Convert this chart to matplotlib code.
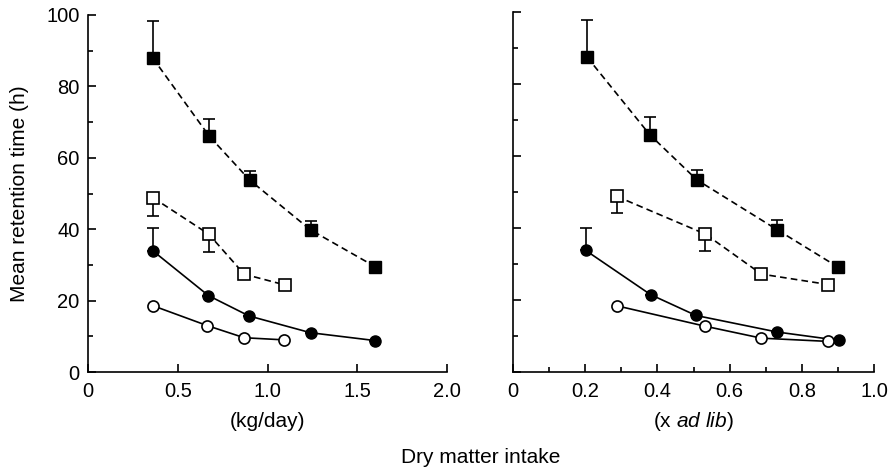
# mean retention time vs dry matter intake, two panels
import matplotlib
matplotlib.use('Agg')
import matplotlib.pyplot as plt
from matplotlib.ticker import FixedLocator, FixedFormatter

plt.rcParams['font.family'] = ['Liberation Sans', 'DejaVu Sans']
plt.rcParams['mathtext.fontset'] = 'custom'
plt.rcParams['mathtext.rm'] = 'Liberation Sans'
plt.rcParams['mathtext.it'] = 'Liberation Sans:italic'

# левая панель: кг/день
kg_fsq_x = [0.36, 0.675, 0.90, 1.24, 1.60]
kg_fsq_y = [88.0, 66.1, 53.8, 39.8, 29.5]
kg_fsq_err = [10.3, 4.9, 2.5, 2.6, 0]

kg_osq_x = [0.363, 0.673, 0.87, 1.096]
kg_osq_y = [48.8, 38.6, 27.4, 24.4]
kg_osq_err = [5.0, 4.9, 0, 0]

kg_fci_x = [0.36, 0.671, 0.897, 1.24, 1.60]
kg_fci_y = [34.0, 21.4, 15.7, 11.0, 8.8]
kg_fci_err = [6.2, 0, 0, 0, 0]

kg_oci_x = [0.36, 0.664, 0.87, 1.092]
kg_oci_y = [18.6, 13.0, 9.6, 9.0]

# правая панель: доля от ad lib
al_fsq_x = [0.205, 0.379, 0.509, 0.732, 0.901]
al_fsq_y = [87.5, 65.9, 53.4, 39.5, 29.1]
al_fsq_err = [10.4, 4.8, 2.7, 2.6, 0]

al_osq_x = [0.287, 0.533, 0.688, 0.873]
al_osq_y = [48.8, 38.3, 27.2, 24.3]
al_osq_err = [4.6, 4.8, 0, 0]

al_fci_x = [0.201, 0.381, 0.507, 0.732, 0.902]
al_fci_y = [33.8, 21.5, 15.7, 11.1, 8.8]
al_fci_err = [6.2, 0, 0, 0, 0]

al_oci_x = [0.287, 0.533, 0.688, 0.873]
al_oci_y = [18.4, 12.7, 9.4, 8.5]

y_ticks = [0, 20, 40, 60, 80, 100]
y_labels = ['0', '20', '40', '60', '80', '100']
y_minor = [10, 30, 50, 70, 90]
kg_ticks = [0, 0.5, 1.0, 1.5, 2.0]
kg_labels = ['0', '0.5', '1.0', '1.5', '2.0']
al_ticks = [0, 0.2, 0.4, 0.6, 0.8, 1.0]
al_labels = ['0', '0.2', '0.4', '0.6', '0.8', '1.0']
al_minor = [0.1, 0.3, 0.5, 0.7, 0.9]

LW = 1.2
FS = 15


def errs(err, up):
    zeros = [0] * len(err)
    return [zeros, err] if up else [err, zeros]


def panel(ax, fsq, osq, fci, oci):
    x, y, e = fsq
    ax.errorbar(x, y, yerr=errs(e, True), fmt='none', ecolor='black',
                elinewidth=LW, capsize=4.2, capthick=LW, zorder=2)
    ax.plot(x, y, ls=(0, (4, 2.5)), color='black', lw=LW, marker='s',
            ms=8.5, mfc='black', mec='black', zorder=3)
    x, y, e = osq
    ax.errorbar(x, y, yerr=errs(e, False), fmt='none', ecolor='black',
                elinewidth=LW, capsize=4.2, capthick=LW, zorder=2)
    ax.plot(x, y, ls=(0, (4, 2.5)), color='black', lw=LW, marker='s',
            ms=8.5, mfc='white', mec='black', mew=LW, zorder=3)
    x, y, e = fci
    ax.errorbar(x, y, yerr=errs(e, True), fmt='none', ecolor='black',
                elinewidth=LW, capsize=4.2, capthick=LW, zorder=2)
    ax.plot(x, y, ls='-', color='black', lw=LW, marker='o',
            ms=8, mfc='black', mec='black', zorder=3)
    x, y = oci
    ax.plot(x, y, ls='-', color='black', lw=LW, marker='o',
            ms=8, mfc='white', mec='black', mew=LW, zorder=3)

    ax.spines['top'].set_visible(False)
    ax.spines['right'].set_visible(False)
    ax.spines['left'].set_linewidth(LW)
    ax.spines['bottom'].set_linewidth(LW)
    ax.set_ylim(0, 100)
    ax.yaxis.set_major_locator(FixedLocator(y_ticks))
    ax.yaxis.set_major_formatter(FixedFormatter(y_labels))
    ax.yaxis.set_minor_locator(FixedLocator(y_minor))
    ax.tick_params(which='both', direction='in', width=LW, labelsize=14.5)
    ax.tick_params(axis='x', which='both', pad=7)
    ax.tick_params(axis='y', which='both', pad=6)
    ax.tick_params(which='major', length=6)
    ax.tick_params(which='minor', length=3.5)


fig = plt.figure(figsize=(8.96, 4.72), dpi=100)
ax1 = fig.add_axes([88 / 896, 1 - 372 / 472, 359 / 896, 357 / 472])
ax2 = fig.add_axes([513 / 896, 1 - 372 / 472, 361 / 896, 360 / 472])

panel(ax1, (kg_fsq_x, kg_fsq_y, kg_fsq_err), (kg_osq_x, kg_osq_y, kg_osq_err),
      (kg_fci_x, kg_fci_y, kg_fci_err), (kg_oci_x, kg_oci_y))
panel(ax2, (al_fsq_x, al_fsq_y, al_fsq_err), (al_osq_x, al_osq_y, al_osq_err),
      (al_fci_x, al_fci_y, al_fci_err), (al_oci_x, al_oci_y))

ax1.set_xlim(0, 2.0)
ax1.xaxis.set_major_locator(FixedLocator(kg_ticks))
ax1.xaxis.set_major_formatter(FixedFormatter(kg_labels))
ax1.xaxis.set_minor_locator(FixedLocator([]))
ax1.set_ylabel('Mean retention time (h)', fontsize=FS)
ax1.yaxis.set_label_coords(-0.163, 0.5)
ax1.set_xlabel('(kg/day)', fontsize=FS, va='baseline')
ax1.xaxis.set_label_coords(0.5, -0.155)

ax2.set_xlim(0, 1.0)
ax2.xaxis.set_major_locator(FixedLocator(al_ticks))
ax2.xaxis.set_major_formatter(FixedFormatter(al_labels))
ax2.xaxis.set_minor_locator(FixedLocator(al_minor))
ax2.tick_params(axis='y', labelleft=False)
ax2.set_xlabel('(x $\\mathit{ad\\ lib}$)', fontsize=FS, va='baseline')
ax2.xaxis.set_label_coords(0.5, -0.154)

fig.text(481 / 896, 1 - 463 / 472, 'Dry matter intake', fontsize=FS,
         ha='center', va='baseline')

plt.savefig('out.png', dpi=100)
